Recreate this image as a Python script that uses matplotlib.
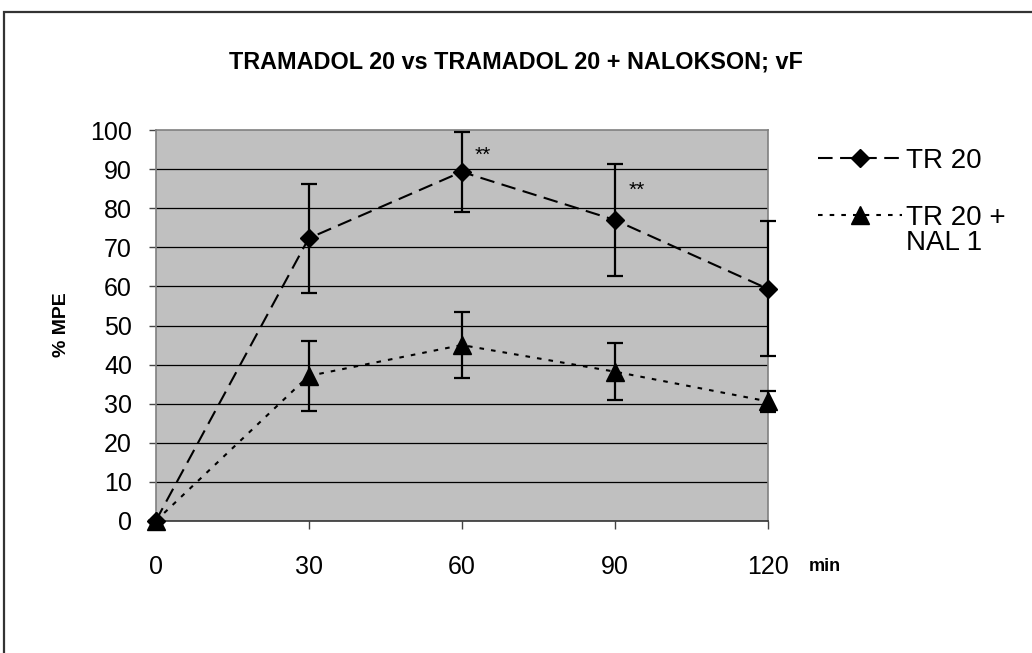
import matplotlib
matplotlib.use("Agg")
import matplotlib.pyplot as plt
from matplotlib.lines import Line2D
from matplotlib.patches import Rectangle

plt.rcParams['font.family'] = ['Liberation Sans', 'DejaVu Sans']

# Time points (min) and %MPE results
time_min = [0, 30, 60, 90, 120]
tr20_mean = [0, 72.3, 89.3, 77.0, 59.4]
tr20_err = [0, 13.9, 10.2, 14.3, 17.2]
nal_mean = [0, 37.1, 45.0, 38.2, 30.6]
nal_err = [0, 9.0, 8.5, 7.3, 2.7]

# Significance marks: (time, %MPE, offset in points)
sig_marks = [(60, 89.3, (15.3, 8.1)), (90, 77.0, (16.0, 17.3))]

x_ticks = [0, 30, 60, 90, 120]
y_ticks = list(range(0, 101, 10))

title = "TRAMADOL 20 vs TRAMADOL 20 + NALOKSON; vF"
label_tr = ["TR 20"]
label_nal = ["TR 20 +", "NAL 1"]

W, H = 1032, 653
fig = plt.figure(figsize=(W / 100, H / 100), dpi=100)
fig.patch.set_facecolor("white")

# outer chart frame (only top and left edges fall inside the canvas)
fig.patches.append(Rectangle((4 / W, -0.2), 1.2, 1 - 11.5 / H + 0.2,
                             transform=fig.transFigure, fill=False,
                             edgecolor="#333333", linewidth=1.6))

ax = fig.add_axes([155.7 / W, 1 - 521 / H, (767.7 - 155.7) / W, (521 - 130) / H])
ax.set_facecolor("#C0C0C0")
ax.set_xlim(0, 120)
ax.set_ylim(0, 100)

for y in y_ticks[1:-1]:
    ax.axhline(y, color="black", linewidth=0.9, zorder=1)

dash_style = (0, (7, 3.6))
dot_style = (0, (2.2, 3.4))

ax.errorbar(time_min, tr20_mean, yerr=tr20_err, fmt="none", ecolor="black",
            elinewidth=1.6, capsize=5.5, capthick=1.6, zorder=3, clip_on=False)
ax.errorbar(time_min, nal_mean, yerr=nal_err, fmt="none", ecolor="black",
            elinewidth=1.6, capsize=5.5, capthick=1.6, zorder=3, clip_on=False)

ax.plot(time_min, tr20_mean, color="black", linestyle=dash_style, linewidth=1.5,
        marker="D", markersize=9.5, markerfacecolor="black", markeredgecolor="black",
        zorder=4, clip_on=False)
ax.plot(time_min, nal_mean, color="black", linestyle=dot_style, linewidth=1.5,
        marker="^", markersize=12.5, markerfacecolor="black", markeredgecolor="black",
        zorder=4, clip_on=False)

for t, v, off in sig_marks:
    ax.annotate("**", xy=(t, v), xytext=off, textcoords="offset points",
                fontsize=15, ha="center", va="baseline")

for side in ("left", "top", "right"):
    ax.spines[side].set_color("#808080")
    ax.spines[side].set_linewidth(1.2)
ax.spines["bottom"].set_color("#333333")
ax.spines["bottom"].set_linewidth(1.2)

ax.set_xticks(x_ticks)
ax.set_yticks(y_ticks)
ax.tick_params(axis="x", direction="out", length=5.8, width=1, color="#444444",
               labelsize=18, pad=19)
ax.tick_params(axis="y", direction="out", length=5, width=1, color="#444444",
               labelsize=18, pad=12)

fig.text(61 / W, 1 - 325 / H, "% MPE", fontsize=14, fontweight="bold",
         rotation=90, ha="center", va="center")
fig.text(809 / W, 1 - 571 / H, "min", fontsize=13, fontweight="bold",
         ha="left", va="baseline")

fig.text(0.5 * (231 + 800) / W, 1 - 62 / H, title, fontsize=16.8,
         fontweight="bold", ha="center", va="center")

# legend
leg_items = [
    (158, dash_style, "D", 9.5, label_tr),
    (215, dot_style, "^", 12.5, label_nal),
]
for ypix, ls, mk, ms, lines in leg_items:
    yf = 1 - ypix / H
    fig.add_artist(Line2D([818 / W, 902 / W], [yf, yf], transform=fig.transFigure,
                          color="black", linestyle=ls, linewidth=1.5))
    fig.add_artist(Line2D([860 / W], [yf], transform=fig.transFigure,
                          marker=mk, markersize=ms, color="black", linestyle="none"))
    for i, line in enumerate(lines):
        fig.text(906 / W, 1 - (ypix + 25 * i) / H, line, fontsize=20,
                 ha="left", va="center_baseline")

fig.savefig("out.png", dpi=100)
